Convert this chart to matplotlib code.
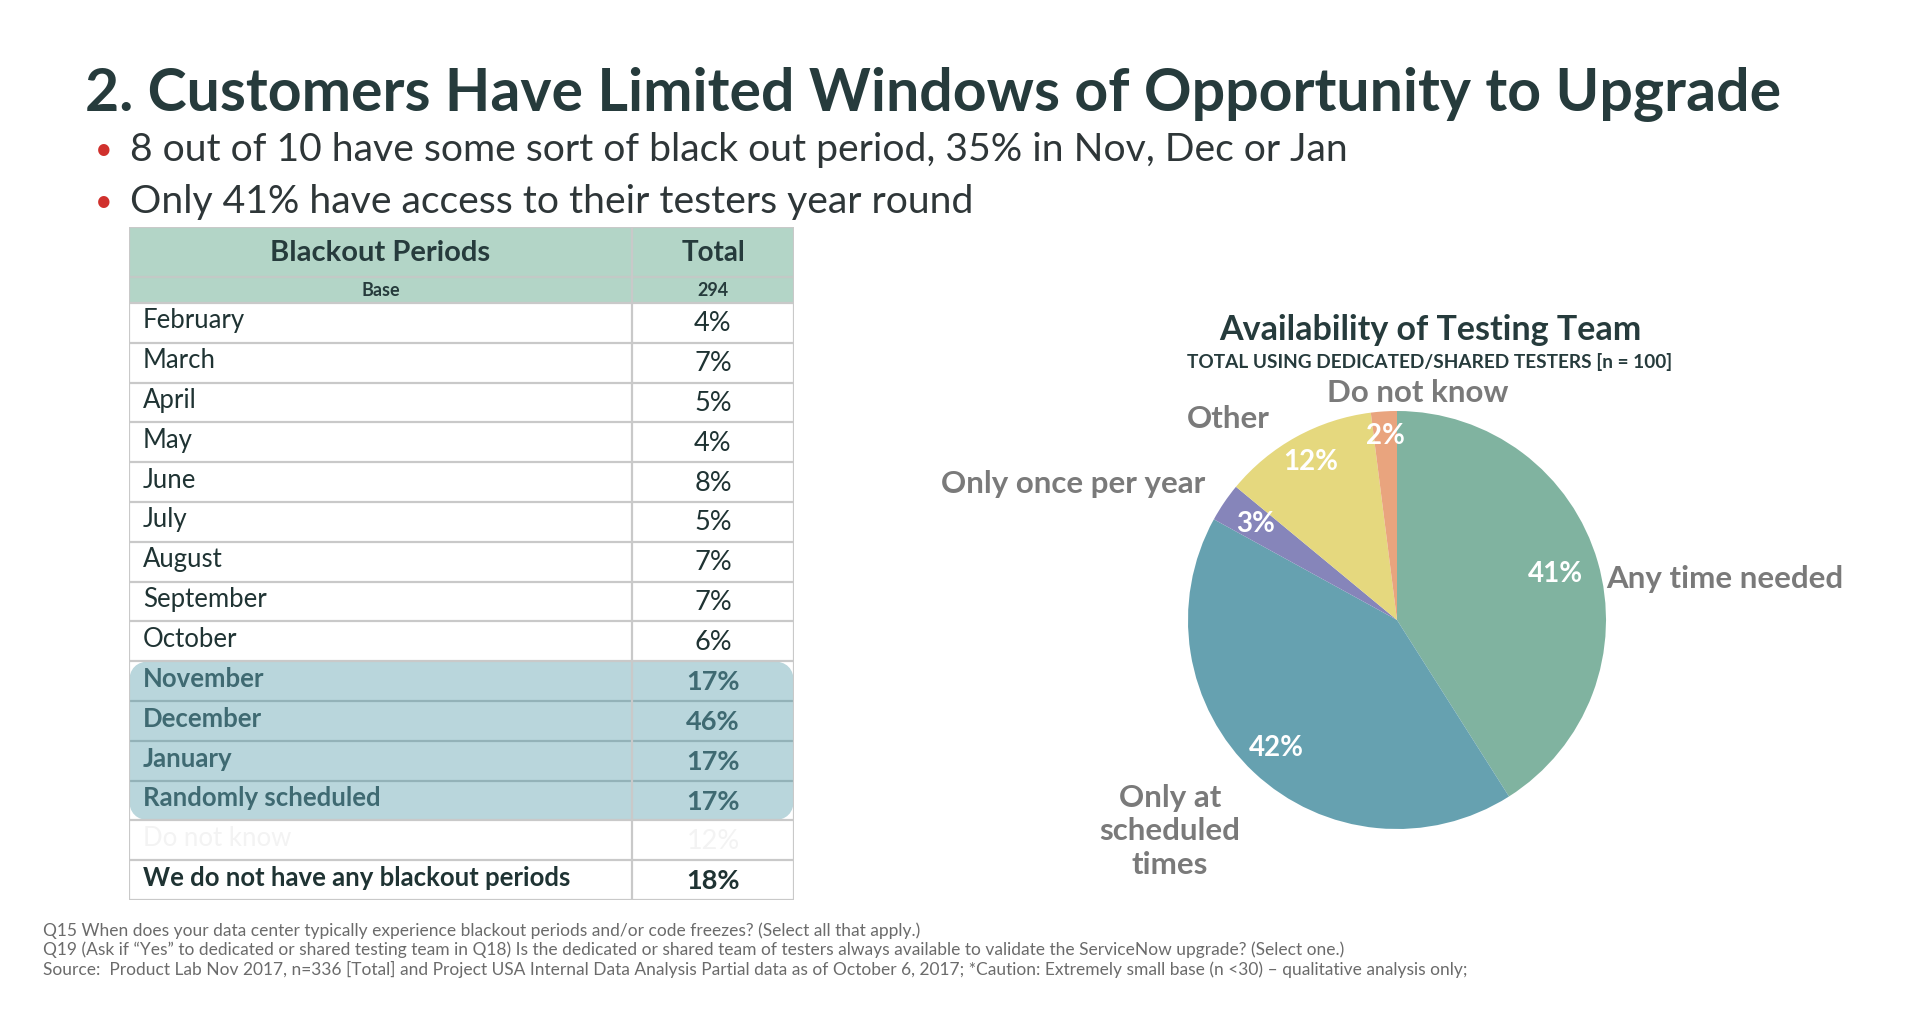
import matplotlib
matplotlib.use('Agg')
import matplotlib.pyplot as plt
from matplotlib.patches import Rectangle, FancyBboxPatch
import numpy as np

# table data
periods = ['February', 'March', 'April', 'May', 'June', 'July', 'August',
           'September', 'October', 'November', 'December', 'January',
           'Randomly scheduled', 'Do not know', 'We do not have any blackout periods']
totals = [4, 7, 5, 4, 8, 5, 7, 7, 6, 17, 46, 17, 17, 12, 18]
base_n = 294
highlight_rows = ['November', 'December', 'January', 'Randomly scheduled']

# pie data
pie_labels = ['Any time needed', 'Only at\nscheduled\ntimes', 'Only once per year', 'Other', 'Do not know']
pie_values = [41, 42, 3, 12, 2]
pie_colors = ['#80b3a0', '#66a1b0', '#8685ba', '#e5d87e', '#e9a47e']

title = '2. Customers Have Limited Windows of Opportunity to Upgrade'
bullets = ['8 out of 10 have some sort of black out period, 35% in Nov, Dec or Jan',
           'Only 41% have access to their testers year round']
notes = ['Q15 When does your data center typically experience blackout periods and/or code freezes? (Select all that apply.)',
         'Q19 (Ask if \u201cYes\u201d to dedicated or shared testing team in Q18) Is the dedicated or shared team of testers always available to validate the ServiceNow upgrade? (Select one.)',
         'Source:  Product Lab Nov 2017, n=336 [Total] and Project USA Internal Data Analysis Partial data as of October 6, 2017; *Caution: Extremely small base (n <30) \u2013 qualitative analysis only;']

plt.rcParams['font.family'] = ['Lato', 'DejaVu Sans']
W, H = 1920, 1033
fig = plt.figure(figsize=(W / 100, H / 100), dpi=100)
fig.patch.set_facecolor('white')

def fx(px):
    return px / W

def fy(py):
    return 1 - py / H

dark = '#263b3c'
fig.text(fx(85), fy(94), title, fontsize=42.5, fontweight='bold', color=dark, va='center', ha='left')
for i, b in enumerate(bullets):
    yy = fy(150 + i * 52)
    fig.text(fx(95), yy, '\u2022', fontsize=22, color='#d0312d', va='center', ha='left')
    fig.text(fx(130), yy, b, fontsize=28.2, color='#2e3638', va='center', ha='left')

for i, n in enumerate(notes):
    fig.text(fx(43), fy(931 + i * 19), n, fontsize=12.5, color='#6b6b6b', va='center', ha='left')

# ---- table ----
tx0, ty0, tw, th = 129, 227, 665, 673
axt = fig.add_axes([fx(tx0), fy(ty0 + th), fx(tw), th / H])
axt.set_xlim(0, tw)
axt.set_ylim(th, 0)
axt.axis('off')

col_split = 503
head_h, base_h = 50, 26
row_h = (th - head_h - base_h) / len(periods)
grid = '#c9c9c9'

axt.add_patch(Rectangle((0, 0), tw, head_h + base_h, facecolor='#b3d5c7', edgecolor='none'))
axt.text(col_split / 2, head_h / 2 + 1, 'Blackout Periods', ha='center', va='center',
         fontsize=21, fontweight='bold', color=dark)
axt.text((col_split + tw) / 2, head_h / 2 + 1, 'Total', ha='center', va='center',
         fontsize=20, fontweight='bold', color=dark)
axt.text(col_split / 2, head_h + base_h / 2 + 1, 'Base', ha='center', va='center',
         fontsize=13, fontweight='bold', color=dark)
axt.text((col_split + tw) / 2, head_h + base_h / 2 + 1, str(base_n), ha='center', va='center',
         fontsize=13, fontweight='bold', color=dark)

first = periods.index(highlight_rows[0])
last = periods.index(highlight_rows[-1])
hy0 = head_h + base_h + first * row_h
hy1 = head_h + base_h + (last + 1) * row_h
axt.add_patch(FancyBboxPatch((0, hy0), tw, hy1 - hy0,
                             boxstyle='round,pad=0,rounding_size=22',
                             facecolor='#b9d6dc', edgecolor='none', zorder=1))

# grid lines
for k in range(len(periods) + 1):
    yl = head_h + base_h + k * row_h
    c = '#93b2b8' if first < k <= last else grid
    axt.plot([0, tw], [yl, yl], color=c, lw=1.6, zorder=2)
axt.plot([0, tw], [head_h, head_h], color='#c3c9c6', lw=1.6, zorder=2)
axt.plot([0, tw], [0, 0], color=grid, lw=1.6, zorder=2)
axt.plot([0, 0], [0, th], color=grid, lw=1.6, zorder=2)
axt.plot([tw, tw], [0, th], color=grid, lw=1.6, zorder=2)
axt.plot([col_split, col_split], [0, th], color=grid, lw=1.6, zorder=2)

for i, (p, v) in enumerate(zip(periods, totals)):
    yc = head_h + base_h + (i + 0.5) * row_h
    if p in highlight_rows:
        col, fw = '#3f6a72', 'bold'
    elif p == 'Do not know':
        col, fw = '#f3f3f3', 'normal'
    elif i == len(periods) - 1:
        col, fw = '#1f3333', 'bold'
    else:
        col, fw = '#1f3333', 'normal'
    axt.text(14, yc - 2, p, ha='left', va='center', fontsize=18.5, fontweight=fw, color=col, zorder=3)
    axt.text((col_split + tw) / 2, yc + 1, f'{v}%', ha='center', va='center', fontsize=19.5,
             fontweight=fw if i >= first else 'normal', color=col, zorder=3)

# ---- pie ----
cx, cy, r = 1397, 620, 209
half = 1.5 * r
axp = fig.add_axes([fx(cx - half), fy(cy + half), fx(2 * half), 2 * half / H])
wedges, _, autotexts = axp.pie(pie_values, colors=pie_colors, startangle=90, counterclock=False,
                               autopct='%d%%', pctdistance=0.83,
                               wedgeprops=dict(edgecolor='none'),
                               textprops=dict(color='white', fontsize=20, fontweight='bold'))
axp.set_xlim(-1.5, 1.5)
axp.set_ylim(-1.5, 1.5)
axp.set_aspect('equal')
axp.axis('off')

# per-slice percent distance
pct_dist = [0.79, 0.84, 0.82, 0.86, 0.88]
for w, t, d in zip(wedges, autotexts, pct_dist):
    ang = np.deg2rad((w.theta1 + w.theta2) / 2)
    t.set_position((d * np.cos(ang), d * np.sin(ang)))

# per-slice label placement: radius factor, small shift, alignment
label_dist = [1.03, 1.47, 1.12, 1.12, 1.09]
label_shift = [(0.01, -0.09), (-0.08, 0.06), (0.01, 0.02), (-0.07, -0.02), (0.17, 0.0)]
label_ha = ['left', 'center', 'right', 'right', 'center']
for w, lab, d, (sx, sy), ha in zip(wedges, pie_labels, label_dist, label_shift, label_ha):
    ang = np.deg2rad((w.theta1 + w.theta2) / 2)
    x, y = d * np.cos(ang) + sx, d * np.sin(ang) + sy
    axp.text(x, y, lab, ha=ha, va='center', fontsize=22.5, fontweight='bold', color='#7a7a7a',
             linespacing=1.25)

fig.text(fx(1430), fy(330), 'Availability of Testing Team', ha='center', va='center',
         fontsize=24.5, fontweight='bold', color=dark)
fig.text(fx(1430), fy(362), 'TOTAL USING DEDICATED/SHARED TESTERS [n = 100]', ha='center', va='center',
         fontsize=13.7, fontweight='bold', color=dark)

fig.savefig('out.png', dpi=100)
